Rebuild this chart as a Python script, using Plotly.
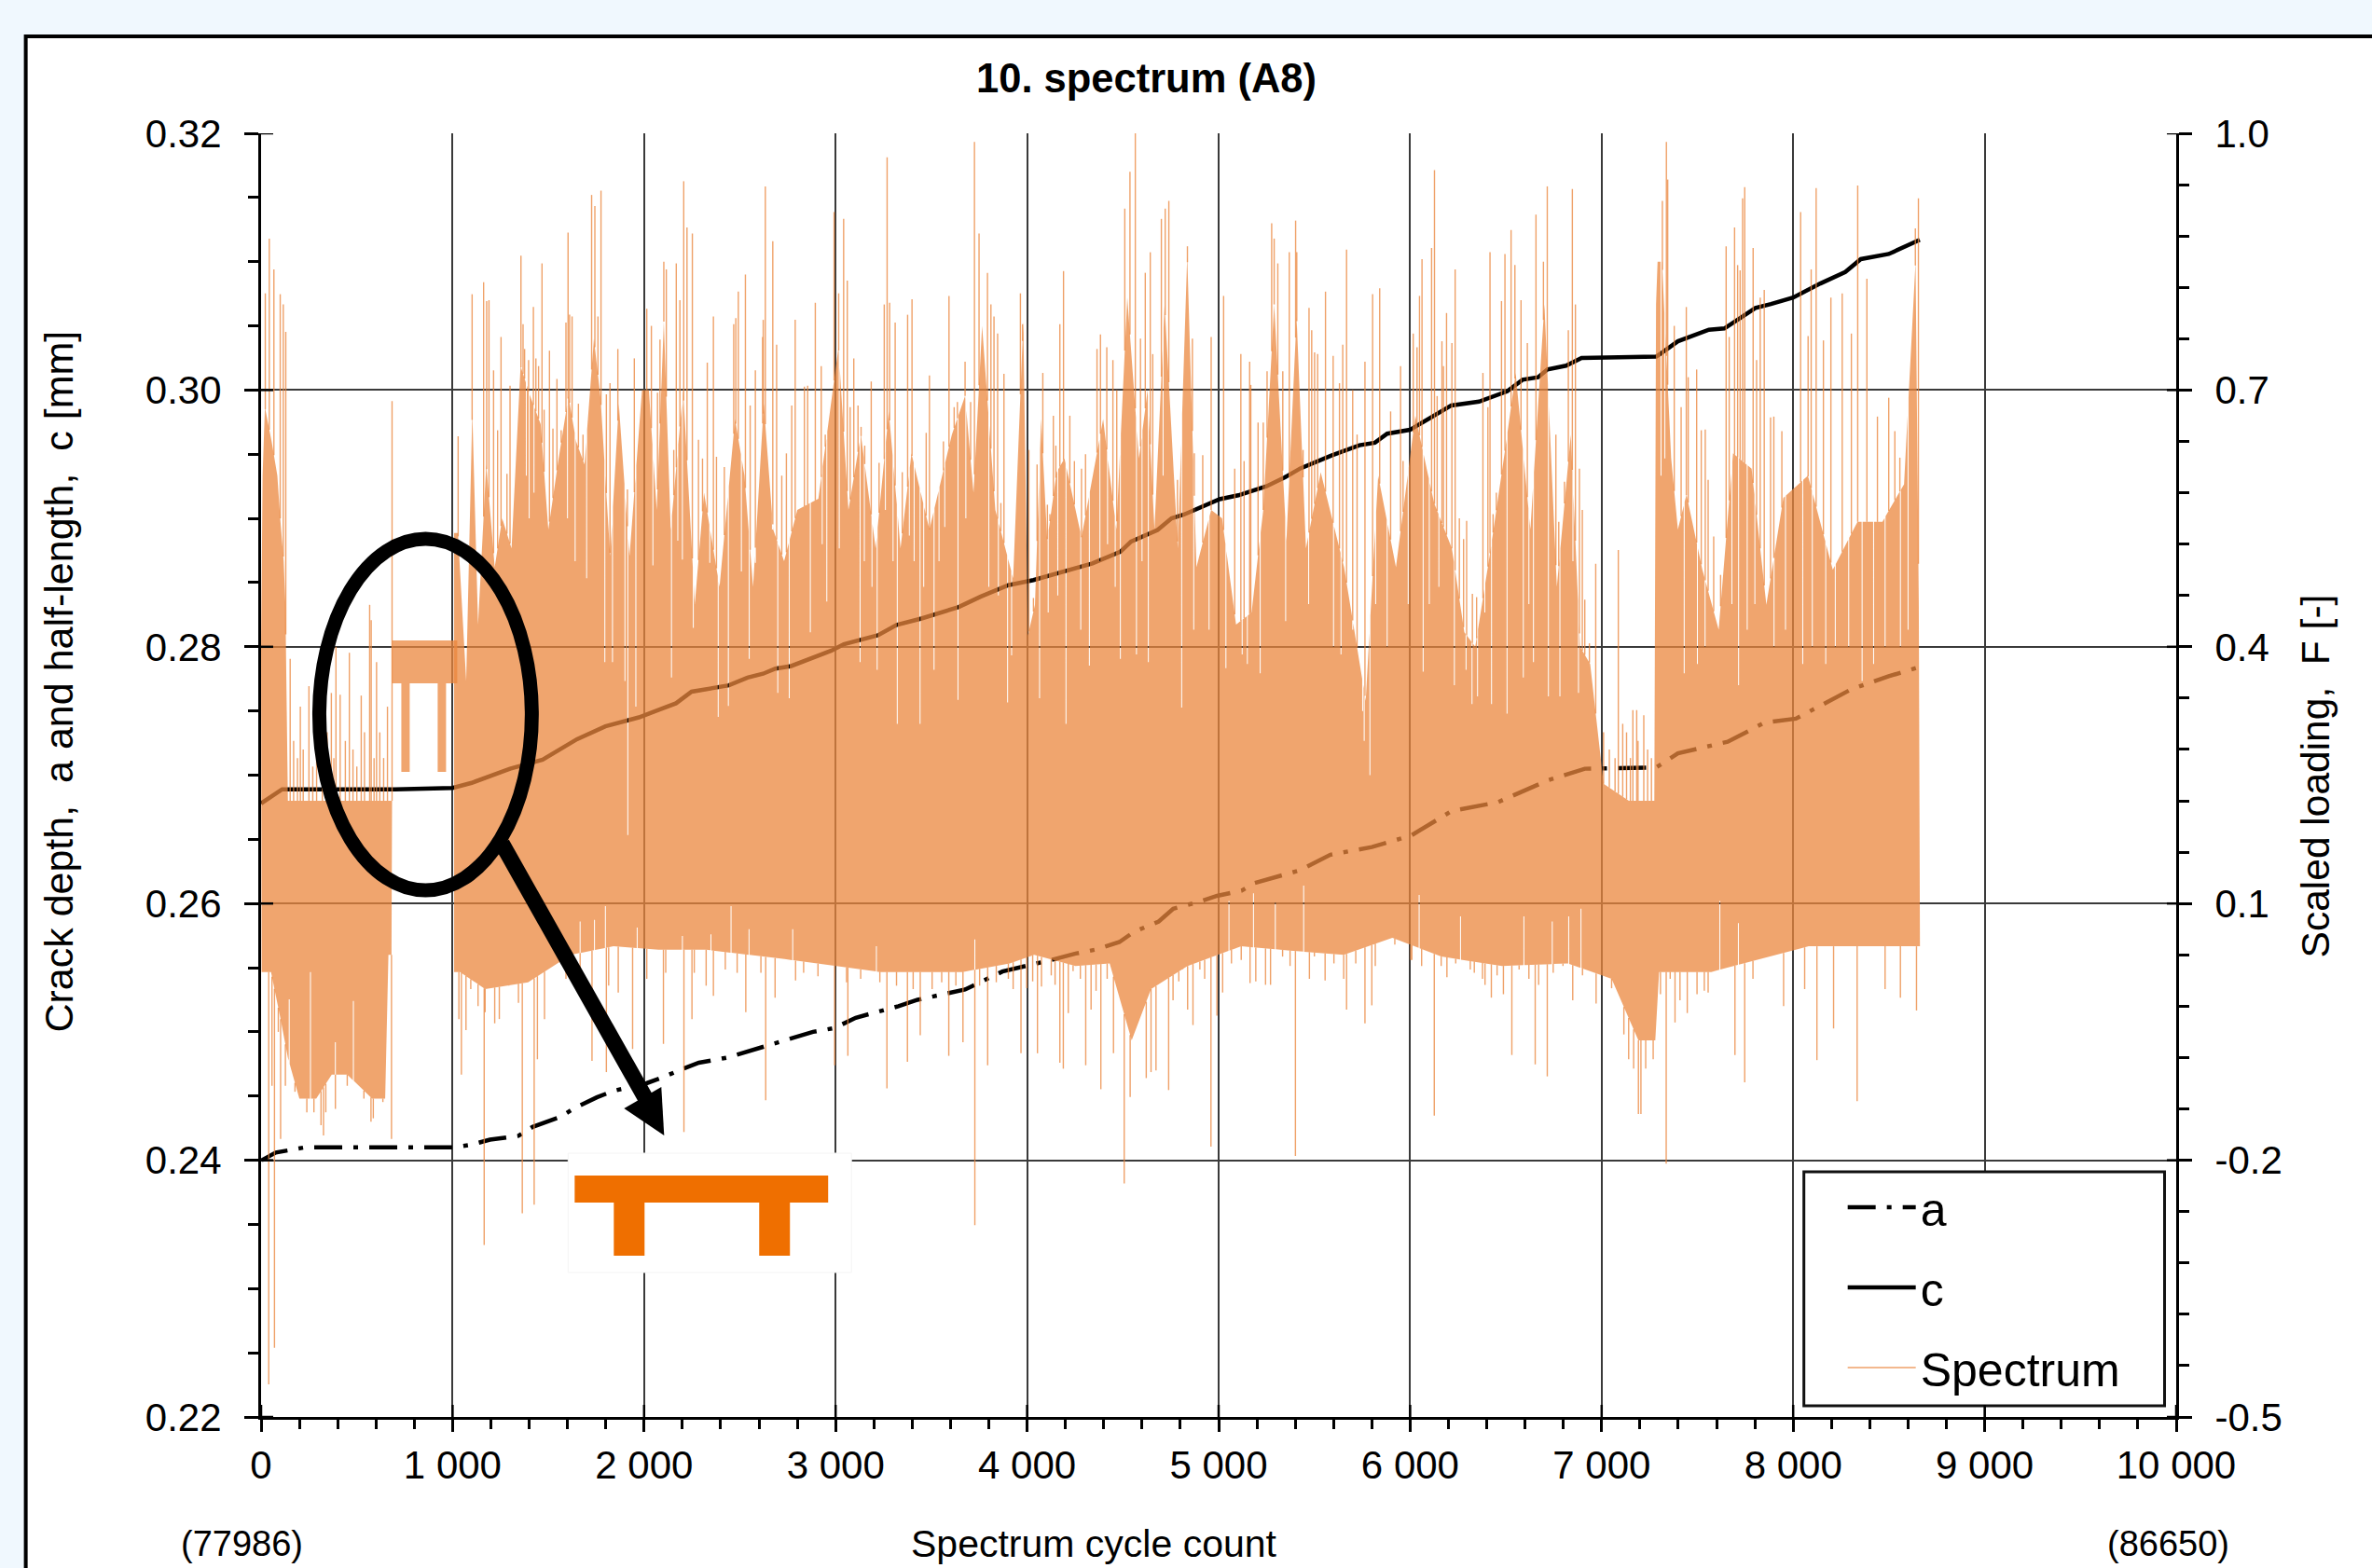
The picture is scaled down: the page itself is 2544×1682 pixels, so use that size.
import plotly.graph_objects as go

# ---- crack curves ----
a_x = [3,77,227,624,1008,1095,1195,1344,1418,1567,1629,1753,1840,2013,2088,2199,2286,2435,2522,2658,2733,2882,2994,3105,3204,3328,3428,3564,3676,3871,4024,4126,4253,4355,4482,4559,4687,4763,4890,4992,5120,5189,5426,5584,5800,6006,6216,6459,6719,6912,7285,7398,7658,7852,8014,8144,8305,8499,8654]
a_v = [.2400,.2406,.2410,.2410,.2410,.2412,.2416,.2419,.2426,.2434,.2440,.2449,.2454,.2460,.2464,.2471,.2476,.2480,.2484,.2490,.2493,.2500,.2503,.2511,.2515,.2520,.2525,.2529,.2533,.2547,.2552,.2556,.2561,.2564,.2570,.2578,.2586,.2596,.2601,.2606,.2610,.2616,.2626,.2638,.2644,.2653,.2672,.2679,.2696,.2705,.2706,.2717,.2726,.2741,.2744,.2754,.2767,.2777,.2784]
c_x = [0,110,300,700,1000,1100,1300,1470,1650,1798,1973,2167,2248,2443,2540,2621,2686,2768,2978,3043,3221,3319,3448,3643,3756,3902,4033,4130,4341,4487,4543,4681,4754,4819,4908,5005,5103,5249,5346,5427,5589,5735,5816,5880,5999,6100,6215,6360,6506,6587,6668,6717,6814,6895,7285,7398,7560,7641,7803,7884,8000,8142,8272,8353,8499,8661]
c_v = [.2678,.2689,.2689,.2689,.2690,.2694,.2705,.2712,.2728,.2738,.2745,.2756,.2765,.2770,.2776,.2779,.2783,.2785,.2797,.2802,.2809,.2817,.2822,.2831,.2839,.2848,.2852,.2856,.2865,.2874,.2882,.2891,.2900,.2903,.2909,.2915,.2918,.2925,.2932,.2939,.2949,.2957,.2959,.2966,.2969,.2978,.2988,.2991,.2999,.3008,.3010,.3016,.3019,.3025,.3026,.3038,.3047,.3048,.3064,.3067,.3072,.3083,.3092,.3102,.3106,.3117]

# ---- spectrum: solid band, outline readings (cycle, level) ----
upA_x = [0,8,20,55,85,100,118,127,140,400,684]
upA_F = [.40,.60,.68,.64,.60,.55,.50,.45,.22,.22,.22]
loA_x = [3,52,102,140,200,288,369,450,580,648,665,681]
loA_F = [.02,.02,-.035,-.08,-.128,-.128,-.10,-.10,-.128,-.128,.04,.04]
upB_x = [1008,1028,1071,1103,1133,1176,1220,1259,1308,1355,1405,1460,1500,1552,1605,1645,1689,1738,1773,1823,1868,1924,1989,2025,2066,2103,2139,2204,2265,2313,2394,2475,2524,2569,2625,2674,2731,2800,2910,3015,3067,3132,3209,3278,3339,3396,3490,3607,3676,3720,3765,3834,3927,3980,4004,4041,4073,4105,4154,4195,4284,4397,4466,4523,4584,4629,4665,4718,4787,4836,4884,4961,5018,5091,5172,5233,5290,5354,5407,5456,5533,5655,5768,5833,5926,6027,6125,6218,6283,6340,6421,6502,6551,6628,6701,6766,6839,6887,6940,7010,7142,7275,7284,7292,7315,7363,7398,7443,7526,7611,7686,7783,7860,7949,8077,8207,8336,8466,8579,8639,8656]
upB_F = [.533,.533,.36,.675,.426,.613,.493,.55,.515,.728,.693,.66,.537,.617,.693,.64,.613,.76,.69,.506,.684,.506,.70,.70,.56,.78,.537,.70,.45,.58,.47,.666,.60,.47,.684,.537,.50,.56,.573,.75,.56,.648,.515,.675,.515,.626,.537,.648,.693,.58,.775,.56,.48,.78,.413,.449,.666,.524,.604,.62,.528,.666,.537,.808,.62,.70,.537,.80,.515,.857,.493,.56,.55,.426,.44,.56,.80,.524,.786,.515,.604,.493,.337,.60,.493,.67,.568,.515,.417,.40,.515,.64,.72,.537,.80,.47,.648,.40,.38,.24,.22,.22,.80,.85,.85,.62,.537,.578,.49,.42,.626,.608,.449,.574,.60,.49,.546,.546,.59,.85,.45]
loB_x = [1008,1039,1170,1394,1617,1840,2076,2325,2734,3230,3663,3909,4037,4253,4431,4546,4647,4838,5118,5373,5653,5907,6162,6480,6823,7052,7192,7280,7300,7572,8081,8662]
loB_F = [.02,.02,0,.008,.04,.05,.046,.046,.035,.02,.02,.03,.04,.027,.03,-.06,0,.027,.05,.045,.04,.06,.038,.027,.03,.012,-.06,-.06,.02,.02,.05,.05]

# ---- spectrum: single peaks above the band (cycle, F) ----
peak_x = [22,43,67,100,116,129,152,170,190,205,220,250,270,290,320,345,367,380,391,413,440,461,480,500,523,540,567,575,590,603,620,640,660,684,1029,1102,1162,1178,1190,1214,1235,1253,1284,1300,1357,1368,1376,1397,1422,1435,1449,1467,1478,1506,1524,1545,1567,1592,1603,1611,1624,1657,1681,1705,1726,1743,1759,1775,1803,1822,1863,1895,1913,1949,2014,2038,2070,2083,2103,2116,2135,2155,2168,2187,2207,2224,2252,2284,2305,2330,2362,2378,2398,2419,2435,2468,2479,2492,2529,2554,2581,2619,2622,2633,2672,2692,2719,2743,2771,2789,2837,2854,2894,2925,2946,2966,2992,3016,3042,3061,3076,3095,3117,3133,3152,3186,3227,3254,3269,3282,3311,3348,3376,3399,3433,3473,3490,3522,3563,3592,3619,3636,3676,3705,3725,3749,3793,3811,3827,3846,3863,3879,3936,3965,3976,4009,4033,4052,4082,4106,4119,4137,4150,4171,4190,4223,4247,4284,4305,4338,4365,4383,4416,4448,4468,4510,4537,4565,4592,4617,4643,4656,4669,4701,4721,4740,4785,4818,4837,4863,4873,4917,4961,5026,5084,5116,5133,5162,5168,5206,5233,5253,5277,5290,5309,5335,5369,5402,5408,5441,5472,5486,5501,5517,5558,5598,5631,5648,5668,5700,5723,5764,5804,5841,5898,5950,5963,6016,6036,6049,6062,6112,6127,6141,6166,6174,6190,6218,6235,6257,6279,6295,6325,6347,6380,6406,6417,6433,6450,6477,6495,6527,6547,6579,6612,6639,6657,6696,6716,6735,6761,6776,6806,6826,6847,6863,6884,6899,6912,6936,6969,7010,7040,7070,7087,7110,7130,7150,7163,7183,7190,7220,7240,7260,7293,7317,7338,7345,7379,7415,7442,7452,7496,7520,7541,7556,7585,7621,7650,7666,7694,7710,7723,7736,7747,7791,7809,7828,7849,7882,7899,7941,8039,8078,8094,8120,8158,8197,8256,8304,8337,8385,8440,8499,8531,8557,8596,8638,8654]
peak_F = [.813,.877,.841,.812,.80,.768,.386,.29,.27,.33,.28,.354,.26,.29,.25,.30,.346,.27,.40,.344,.29,.393,.28,.26,.343,.30,.449,.431,.27,.382,.30,.27,.33,.687,.646,.812,.826,.804,.805,.723,.653,.762,.602,.705,.857,.777,.748,.735,.797,.737,.728,.848,.677,.746,.655,.713,.653,.779,.884,.788,.786,.684,.648,.64,.928,.915,.786,.933,.695,.708,.748,.506,.584,.737,.795,.775,.697,.759,.85,.841,.562,.63,.848,.805,.944,.89,.883,.642,.62,.732,.786,.622,.469,.61,.55,.777,.784,.815,.835,.682,.723,.762,.782,.938,.874,.753,.60,.626,.682,.782,.704,.705,.802,.728,.648,.596,.908,.813,.90,.828,.68,.737,.682,.657,.635,.71,.615,.80,.972,.802,.779,.604,.788,.806,.573,.65,.717,.564,.64,.81,.68,.686,.733,.686,.99,.883,.837,.80,.786,.766,.568,.719,.508,.813,.777,.63,.457,.613,.72,.566,.555,.67,.635,.777,.839,.67,.617,.608,.625,.588,.748,.765,.75,.735,.70,.912,.955,1.0,.76,.837,.861,.742,.555,.90,.912,.921,.595,.642,.868,.76,.626,.624,.762,.81,.608,.742,.617,.733,.706,.662,.662,.722,.895,.877,.848,.722,.861,.898,.861,.63,.796,.77,.744,.742,.815,.74,.708,.753,.864,.70,.648,.733,.812,.819,.675,.728,.617,.766,.75,.81,.853,.866,.957,.693,.757,.728,.79,.755,.841,.55,.526,.547,.462,.458,.72,.68,.861,.555,.58,.804,.859,.887,.846,.805,.755,.553,.905,.85,.938,.56,.648,.546,.593,.77,.935,.80,.608,.56,.455,.404,.497,.30,.28,.27,.513,.31,.30,.27,.326,.326,.29,.32,.28,.27,.85,.921,.99,.946,.775,.68,.797,.715,.724,.653,.654,.595,.529,.484,.868,.762,.89,.846,.84,.924,.937,.866,.735,.808,.817,.668,.669,.652,.908,.763,.841,.936,.758,.808,.813,.766,.939,.83,.669,.691,.652,.621,.604,.889,.924]

# ---- spectrum: single troughs below the band (cycle, F) ----
trough_x = [40,57,70,90,102,127,177,239,276,313,326,338,388,450,499,537,574,586,636,681,1033,1046,1070,1095,1133,1165,1170,1220,1244,1294,1344,1364,1426,1443,1480,1592,1666,1728,1803,1815,1865,1940,2014,2101,2113,2208,2250,2262,2324,2362,2424,2486,2531,2610,2635,2684,2791,2833,2908,2995,3057,3064,3131,3231,3268,3318,3375,3405,3442,3504,3554,3591,3628,3665,3727,3752,3794,3839,3902,3927,3968,3998,4029,4054,4075,4126,4146,4171,4189,4215,4240,4278,4306,4334,4360,4385,4418,4451,4507,4538,4584,4622,4647,4673,4711,4739,4749,4762,4792,4813,4838,4866,4902,4927,4960,4991,5021,5067,5118,5164,5194,5245,5271,5334,5373,5401,5474,5500,5556,5602,5653,5668,5716,5764,5800,5818,5920,6003,6009,6060,6126,6162,6192,6238,6314,6335,6378,6391,6424,6454,6487,6531,6569,6620,6653,6671,6716,6747,6798,6849,6900,6971,7027,7052,7116,7141,7167,7192,7205,7230,7269,7307,7337,7358,7383,7409,7447,7498,7536,7556,7663,7696,7747,7790,7950,8060,8124,8211,8334,8480,8560,8644]
trough_F = [-.462,-.113,-.419,-.05,-.175,-.113,-.12,-.144,-.144,-.159,-.171,-.144,-.14,-.113,-.097,-.128,-.155,-.151,-.132,-.175,-.035,-.10,-.048,0,-.02,-.299,-.027,-.04,-.035,.004,-.016,-.262,-.252,-.082,-.035,.012,-.004,-.084,-.097,.004,-.004,-.07,.012,-.064,.019,-.167,-.035,.019,.004,-.008,.023,.019,-.027,.019,-.13,-.01,.01,.019,.015,-.089,.008,-.078,.012,.008,-.116,.004,-.085,0,-.054,0,.008,-.078,.004,-.062,-.276,.004,-.089,.008,.012,0,-.075,.001,.009,-.075,.003,.016,.005,-.086,-.093,-.028,.021,.012,-.089,-.024,-.002,-.117,.012,-.075,-.227,-.126,-.031,-.104,-.097,-.095,.012,-.118,.016,-.013,.009,.023,-.024,-.042,.023,.012,-.184,-.031,-.004,.03,.034,.007,.009,.005,.005,.038,.027,-.195,.012,.038,.01,.03,.012,-.024,.03,-.04,-.019,.027,.052,.034,.034,.027,-.148,.027,.014,.03,.023,.019,.012,.005,-.01,.016,-.006,-.077,.023,.012,-.088,.005,-.102,.019,.027,-.013,.016,-.017,.019,.001,-.053,-.082,-.093,-.146,-.146,-.093,-.082,-.006,-.204,.012,-.039,-.013,-.028,-.006,-.002,-.004,.03,-.077,-.109,.012,-.02,0,-.083,-.046,-.131,0,-.01,-.025]

# ---- spectrum: thin white gaps cut into the band (cycle, F) ----
gap_top_x = [1130,1220,1260,1310,1385,1400,1425,1460,1500,1550,1600,1640,1700,1740,1770,1795,1835,1900,1915,1957,2046,2143,2176,2200,2257,2310,2343,2387,2440,2508,2549,2581,2670,2698,2735,2758,2800,2868,2930,2954,3019,3068,3128,3150,3190,3217,3260,3300,3322,3385,3410,3441,3460,3514,3540,3570,3610,3639,3680,3765,3800,3850,3898,3919,4065,4110,4160,4203,4280,4325,4380,4420,4460,4487,4520,4571,4600,4633,4662,4710,4807,4870,4950,5038,5090,5123,5150,5217,5290,5350,5410,5470,5530,5600,5639,5700,5752,5760,5790,5820,5880,5990,6030,6068,6100,6150,6231,6292,6323,6352,6390,6425,6500,6506,6550,6591,6620,6644,6700,6722,6782,6850,6879,7310,7330,7360,7400,7431,7500,7540,7609,7680,7715,7760,7800,7900,7960,8050,8100,8170,8220,8290,8360,8420,8480,8560,8600]
gap_top_F = [.35,.40,.42,.40,.60,.55,.58,.50,.45,.50,.55,.50,.48,.62,.55,.382,.382,.36,.18,.33,.495,.364,.524,.502,.422,.333,.498,.318,.331,.488,.386,.498,.537,.346,.52,.34,.515,.417,.52,.453,.515,.342,.382,.50,.47,.373,.56,.50,.31,.53,.50,.31,.47,.373,.50,.54,.50,.338,.55,.62,.47,.46,.335,.39,.34,.44,.46,.31,.42,.378,.50,.52,.47,.386,.60,.391,.50,.382,.333,.60,.329,.42,.42,.375,.38,.391,.38,.369,.60,.43,.60,.45,.47,.40,.391,.42,.325,.29,.25,.45,.40,.45,.50,.371,.45,.47,.355,.373,.333,.342,.44,.333,.50,.322,.55,.364,.45,.382,.60,.342,.342,.50,.346,.60,.62,.45,.42,.369,.38,.40,.346,.45,.355,.42,.45,.40,.42,.38,.40,.38,.40,.40,.36,.38,.40,.40,.42]
gap_low_x = [147,258,388,482,1666,1741,1798,1964,2200,2349,2454,2548,2776,3213,3727,5054,5182,5296,5444,5907,6047,6263,6594,6742,6828,6892,7617,7714]
gap_low_F = [-.012,.02,-.062,-.014,.079,.081,.097,.072,.062,.064,.097,.07,.07,.05,.058,.103,.112,.101,.121,.10,.11,.085,.085,.079,.085,.094,.103,.077]

# ---- axes ----
x_ticks = [0,1000,2000,3000,4000,5000,6000,7000,8000,9000,10000]
x_labels = ["0","1 000","2 000","3 000","4 000","5 000","6 000","7 000","8 000","9 000","10 000"]
y_ticks = [.22,.24,.26,.28,.30,.32]
y_labels = ["0.22","0.24","0.26","0.28","0.30","0.32"]
y2_ticks = [-.5,-.2,.1,.4,.7,1.0]
y2_labels = ["-0.5","-0.2","0.1","0.4","0.7","1.0"]

L, R, T, B = 279.5, 2334.5, 143.0, 1520.0
def fx(p): return (p - L) / (R - L)
def fy(p): return (B - p) / (B - T)

ORANGE = "rgba(235,135,62,0.75)"
FONT = "Liberation Sans"


def height_at(xs, vals, x):
    """Height of the drawn outline (straight segments between readings) at x."""
    if x <= xs[0]:
        return vals[0]
    for i in range(len(xs) - 1):
        if xs[i] <= x <= xs[i + 1]:
            t = (x - xs[i]) / (xs[i + 1] - xs[i])
            return vals[i] + t * (vals[i + 1] - vals[i])
    return vals[-1]


def boundary(xs, vals, gx, gv, sign):
    px, py = [], []
    cuts = sorted(zip(gx, gv))
    for i, (a, v) in enumerate(zip(xs, vals)):
        px.append(a); py.append(v)
        if i + 1 == len(xs):
            break
        for nx, nv in cuts:
            if a + 3 < nx < xs[i + 1] - 3:
                h0 = height_at(xs, vals, nx - 2.5)
                h1 = height_at(xs, vals, nx + 2.5)
                if (h0 - nv) * sign > 0:
                    px += [nx - 2.5, nx - 2.5, nx + 2.5, nx + 2.5]
                    py += [h0, nv, nv, h1]
    return px, py


def band(ux, uf, lx, lf):
    tx, ty = boundary(ux, uf, gap_top_x, gap_top_F, 1)
    bx, by = boundary(lx, lf, gap_low_x, gap_low_F, -1)
    return tx + bx[::-1] + [tx[0]], ty + by[::-1] + [ty[0]]


ax_, ay_ = band(upA_x, upA_F, loA_x, loA_F)
bx_, by_ = band(upB_x, upB_F, loB_x, loB_F)
band_x = ax_ + [None] + bx_
band_y = ay_ + [None] + by_

sx, sy = [], []
for x, f in zip(peak_x, peak_F):
    base = height_at(upA_x, upA_F, x) if x <= upA_x[-1] else height_at(upB_x, upB_F, x)
    if f > base:
        sx += [x, x, None]; sy += [base, f, None]
for x, f in zip(trough_x, trough_F):
    base = height_at(loA_x, loA_F, x) if x <= upA_x[-1] else height_at(loB_x, loB_F, x)
    if f < base:
        sx += [x, x, None]; sy += [base, f, None]

fig = go.Figure()
fig.add_trace(go.Scatter(x=a_x, y=a_v, name="a", mode="lines", legendgroup="a",
                         line=dict(color="black", width=4.5, dash="30px,12px,5px,12px")))
fig.add_trace(go.Scatter(x=c_x, y=c_v, name="c", mode="lines", legendgroup="c",
                         line=dict(color="black", width=4.5)))
fig.add_trace(go.Scatter(x=band_x, y=band_y, yaxis="y2", mode="none", fill="toself",
                         fillcolor=ORANGE, showlegend=False, hoverinfo="skip"))
fig.add_trace(go.Scatter(x=sx, y=sy, yaxis="y2", name="Spectrum", mode="lines", legendgroup="s",
                         connectgaps=False, line=dict(color="rgba(235,135,62,0.78)", width=1.4)))

tickfont = dict(family=FONT, size=42, color="black")
shapes = [
    dict(type="rect", xref="paper", yref="paper", x0=fx(27), x1=fx(2600), y0=fy(39), y1=fy(1750),
         fillcolor="white", line=dict(color="black", width=4), layer="below"),
    dict(type="rect", xref="paper", yref="paper", x0=fx(1935), x1=fx(2322), y0=fy(1257), y1=fy(1508),
         fillcolor="white", line=dict(color="#111111", width=3), layer="above"),
    dict(type="rect", xref="paper", yref="paper", x0=fx(420), x1=fx(490), y0=fy(687), y1=fy(733),
         fillcolor=ORANGE, line_width=0, layer="above"),
    dict(type="rect", xref="paper", yref="paper", x0=fx(430), x1=fx(439), y0=fy(733), y1=fy(828),
         fillcolor=ORANGE, line_width=0, layer="above"),
    dict(type="rect", xref="paper", yref="paper", x0=fx(469), x1=fx(478), y0=fy(733), y1=fy(828),
         fillcolor=ORANGE, line_width=0, layer="above"),
    dict(type="circle", xref="paper", yref="paper", x0=fx(342), x1=fx(570), y0=fy(578), y1=fy(955),
         line=dict(color="black", width=15), layer="above"),
    dict(type="line", xref="paper", yref="paper", x0=fx(538), x1=fx(692), y0=fy(905), y1=fy(1178),
         line=dict(color="black", width=17), layer="above"),
    dict(type="path", xref="paper", yref="paper",
         path=f"M {fx(709)} {fy(1166)} L {fx(669)} {fy(1189)} L {fx(712)} {fy(1218)} Z",
         fillcolor="black", line_width=0, layer="above"),
    dict(type="rect", xref="paper", yref="paper", x0=fx(609), x1=fx(913), y0=fy(1237), y1=fy(1365),
         fillcolor="white", line=dict(color="#f4f4f4", width=1), layer="above"),
    dict(type="rect", xref="paper", yref="paper", x0=fx(616), x1=fx(888), y0=fy(1261), y1=fy(1290),
         fillcolor="#ef6f00", line_width=0, layer="above"),
    dict(type="rect", xref="paper", yref="paper", x0=fx(658), x1=fx(691), y0=fy(1290), y1=fy(1347),
         fillcolor="#ef6f00", line_width=0, layer="above"),
    dict(type="rect", xref="paper", yref="paper", x0=fx(814), x1=fx(847), y0=fy(1290), y1=fy(1347),
         fillcolor="#ef6f00", line_width=0, layer="above"),
]
for t in x_ticks:
    shapes.append(dict(type="line", xref="x", yref="paper", x0=t, x1=t, y0=0, y1=13 / (B - T),
                       line=dict(color="black", width=2.5), layer="above"))
for t in y_ticks:
    shapes.append(dict(type="line", xref="paper", yref="y", x0=0, x1=13 / (R - L), y0=t, y1=t,
                       line=dict(color="black", width=2.5), layer="above"))
for t in y2_ticks:
    shapes.append(dict(type="line", xref="paper", yref="y2", x0=1 - 10 / (R - L), x1=1, y0=t, y1=t,
                       line=dict(color="black", width=2.5), layer="above"))


def note(text, px, py, size, angle=0, bold=False):
    return dict(text=f"<b>{text}</b>" if bold else text, xref="paper", yref="paper", x=fx(px), y=fy(py),
                showarrow=False, textangle=angle, xanchor="center", yanchor="middle",
                font=dict(family=FONT, size=size, color="black"))


annotations = [
    note("10. spectrum (A8)", 1229, 84, 43.5, bold=True),
    note("Crack depth,  a and half-length,  c [mm]", 62, 731, 43, angle=-90),
    note("Scaled loading,  F [-]", 2485, 832, 42.5, angle=-90),
    note("Spectrum cycle count", 1173, 1656, 41),
    note("(77986)", 259, 1656, 38),
    note("(86650)", 2326, 1656, 38),
]

axis_common = dict(showline=True, linecolor="black", linewidth=3, ticks="outside", tickcolor="black",
                   tickwidth=2.5, tickfont=tickfont, zeroline=False, automargin=False)
fig.update_layout(
    width=2544, height=1682, autosize=False,
    margin=dict(l=L, r=2544 - R, t=T, b=1682 - B, pad=0),
    paper_bgcolor="#f0f8fe", plot_bgcolor="white",
    font=dict(family=FONT, color="black"),
    xaxis=dict(range=[0, 10000], tickmode="array", tickvals=x_ticks, ticktext=x_labels, ticklen=13,
               showgrid=True, gridcolor="#3a3a3a", gridwidth=1.5,
               minor=dict(ticks="outside", dtick=200, ticklen=10, tickcolor="black", tickwidth=2.5), **axis_common),
    yaxis=dict(range=[.22, .32], tickmode="array", tickvals=y_ticks, ticktext=y_labels, ticklen=15,
               ticklabelstandoff=16, showgrid=True, gridcolor="#3a3a3a", gridwidth=1.5,
               minor=dict(ticks="outside", dtick=.005, tick0=.22, ticklen=11, tickcolor="black", tickwidth=2.5), **axis_common),
    yaxis2=dict(range=[-.5, 1.0], overlaying="y", side="right", anchor="x", tickmode="array", tickvals=y2_ticks,
                ticktext=y2_labels, ticklen=14, ticklabelstandoff=16, showgrid=False,
                minor=dict(ticks="outside", dtick=.06, tick0=-.5, ticklen=11, tickcolor="black", tickwidth=2.5), **axis_common),
    showlegend=True,
    legend=dict(x=fx(1977), y=fy(1256), xanchor="left", yanchor="top", bgcolor="rgba(0,0,0,0)", borderwidth=0,
                font=dict(family=FONT, size=50, color="black"), itemwidth=73, tracegroupgap=18,
                traceorder="grouped"),
    shapes=shapes, annotations=annotations,
)
fig.write_html("out.html", config={"displayModeBar": False},
               post_script="document.body.style.margin='0';document.body.style.background='#f0f8fe';")
